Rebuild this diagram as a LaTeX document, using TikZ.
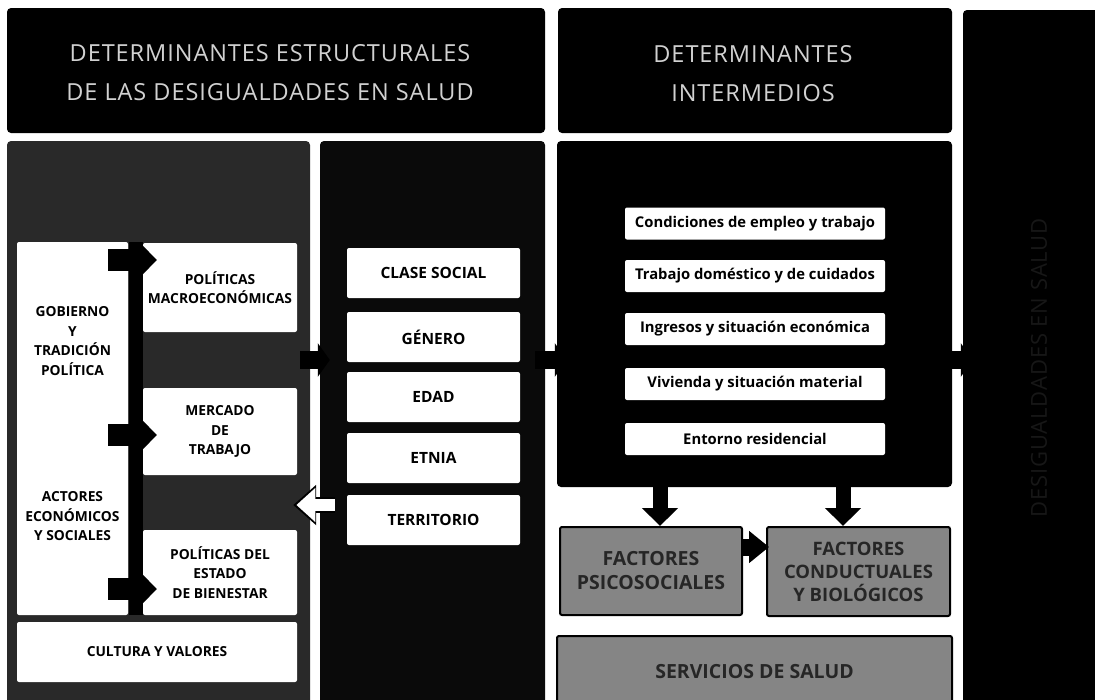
\documentclass[tikz,border=0pt]{standalone}
\usepackage{fontspec}
\setmainfont{Open Sans}
\newfontfamily\hdrfont[LetterSpace=4]{Open Sans}
\usetikzlibrary{arrows.meta,calc}
\begin{document}
\begin{tikzpicture}[x=1pt,y=-1pt,
  panel/.style={rounded corners=4pt, inner sep=0pt, draw=none},
  hdr/.style={panel, fill=black},
  hdrtext/.style={inner sep=0pt, text=white!82!black, align=center,
    font=\hdrfont\fontsize{23.5}{39}\selectfont},
  wbox/.style={fill=white, rounded corners=2pt, inner sep=0pt, align=center,
    font=\bfseries\fontsize{13.8}{19.5}\selectfont},
  midbox/.style={wbox, minimum width=173pt, minimum height=50pt,
    font=\bfseries\fontsize{15.5}{16}\selectfont},
  intbox/.style={wbox, minimum width=260pt, minimum height=32pt,
    font=\bfseries\fontsize{14.8}{16}\selectfont},
  gbox/.style={fill=black!48, draw=black, line width=2pt, rounded corners=2pt,
    inner sep=0pt, align=center, text=black!85,
    font=\bfseries\fontsize{19.5}{24}\selectfont},
  lbl/.style={inner sep=0pt, align=center, font=\bfseries\fontsize{13.8}{19.5}\selectfont},
  blk/.style args={#1/#2/#3}{draw=black, line width=#1,
    -{Triangle[length=#2, width=#3]}},
]
\useasboundingbox[fill=white] (0,0) rectangle (1095,699);

% headers and panels
\node[hdr, minimum width=538pt, minimum height=125pt] (h1) at (276,70.5) {};
\node[hdrtext] (h1t) at (270,73) {DETERMINANTES ESTRUCTURALES\\DE LAS DESIGUALDADES EN SALUD};
\node[hdr, minimum width=394pt, minimum height=125pt] (h2) at (755,70.5) {};
\node[hdrtext] (h2t) at (753,74) {DETERMINANTES\\INTERMEDIOS};
\node[panel, fill=black, minimum width=140pt, minimum height=700pt] (rc) at (1033,360) {};
\node[rotate=90, text=black!91, font=\hdrfont\fontsize{22}{22}\selectfont] (rct) at (1039,368)
  {DESIGUALDADES EN SALUD};

\node[panel, fill=black!84, minimum width=303pt, minimum height=580pt] (lp) at (158.5,431) {};
\node[panel, fill=black!96, minimum width=225pt, minimum height=580pt] (mp) at (432.5,431) {};
\node[panel, fill=black, minimum width=395pt, minimum height=346pt] (ip) at (754.5,314) {};

% left panel content
\node[wbox, minimum width=111pt, minimum height=373pt] (gob) at (72.5,428.5) {};
\node[fill=black, inner sep=0pt, minimum width=14pt, minimum height=373pt] (bar) at (135.5,428.5) {};
\node[lbl] (gobt) at (72.5,341) {GOBIERNO\\Y\\TRADICIÓN\\POLÍTICA};
\node[lbl] (act) at (72.5,516.5) {ACTORES\\ECONÓMICOS\\Y SOCIALES};
\node[wbox, minimum width=154pt, minimum height=89pt] (pm) at (220,287.5) {POLÍTICAS\\MACROECONÓMICAS};
\node[wbox, minimum width=154pt, minimum height=87pt] (merc) at (220,431.5) {MERCADO\\DE\\TRABAJO};
\node[wbox, minimum width=154pt, minimum height=85pt] (est) at (220,572.5) {POLÍTICAS DEL\\ESTADO\\DE BIENESTAR};
\node[wbox, minimum width=280pt, minimum height=60pt] (cult) at (157,652) {CULTURA Y VALORES};

\coordinate (y1) at (0,260);
\coordinate (y2) at (0,435);
\coordinate (y3) at (0,589);
\draw[blk=22pt/16pt/32pt] ($(bar.west |- y1)+(-20,0)$) -- ($(pm.west |- y1)+(14,0)$);
\draw[blk=22pt/16pt/32pt] ($(bar.west |- y2)+(-20,0)$) -- ($(merc.west |- y2)+(14,0)$);
\draw[blk=22pt/16pt/32pt] ($(bar.west |- y3)+(-20,0)$) -- ($(est.west |- y3)+(14,0)$);

% middle panel content
\node[midbox] (clase) at (433.5,273) {CLASE SOCIAL};
\node[midbox] (gen) at (433.5,337) {GÉNERO};
\node[midbox] (edad) at (433.5,397) {EDAD};
\node[midbox] (etnia) at (433.5,458) {ETNIA};
\node[midbox] (terr) at (433.5,520) {TERRITORIO};

% intermediate panel content
\node[intbox] (i1) at (755,223.5) {Condiciones de empleo y trabajo};
\node[intbox] (i2) at (755,276) {Trabajo doméstico y de cuidados};
\node[intbox] (i3) at (755,329) {Ingresos y situación económica};
\node[intbox] (i4) at (755,384) {Vivienda y situación material};
\node[intbox] (i5) at (755,439) {Entorno residencial};

\node[gbox, minimum width=182pt, minimum height=88pt] (psico) at (651,571) {FACTORES\\PSICOSOCIALES};
\node[gbox, minimum width=183pt, minimum height=89pt, font=\bfseries\fontsize{18.5}{23}\selectfont] (cond) at (858.5,571.5) {FACTORES\\CONDUCTUALES\\Y BIOLÓGICOS};
\node[gbox, minimum width=395pt, minimum height=72pt] (serv) at (754.5,672) {SERVICIOS DE SALUD};

% connectors between panels
\coordinate (yc) at (0,360);
\draw[blk=18pt/12pt/33pt] ($(lp.east |- yc)+(-10,0)$) -- ($(mp.west |- yc)+(10,0)$);
\draw[blk=18pt/12pt/33pt] ($(mp.east |- yc)+(-10,0)$) -- ($(ip.west |- yc)+(10,0)$);
\draw[blk=18pt/12pt/33pt] ($(ip.east |- yc)+(-10,0)$) -- ($(rc.west |- yc)+(10,0)$);

\coordinate (x1) at (660,0);
\coordinate (x2) at (843,0);
\draw[blk=15pt/18pt/35pt] (ip.south -| x1) -- (psico.north -| x1);
\draw[blk=15pt/18pt/35pt] (ip.south -| x2) -- (cond.north -| x2);
\coordinate (y5) at (0,547);
\draw[blk=17pt/20pt/31pt] (psico.east |- y5) -- ($(cond.west |- y5)+(3,0)$);

% white arrow from territorio back to the left panel
\coordinate (yt) at (0,505);
\draw[line width=16pt, draw=black, -{Triangle[length=23pt,width=39pt]}]
  ($(terr.west |- yt)+(-12,0)$) -- ($(lp.east |- yt)+(-17,0)$);
\draw[line width=12pt, draw=white, shorten >=3.2pt, -{Triangle[length=19pt,width=33pt]}]
  ($(terr.west |- yt)+(-12,0)$) -- ($(lp.east |- yt)+(-17,0)$);
\end{tikzpicture}
\end{document}
